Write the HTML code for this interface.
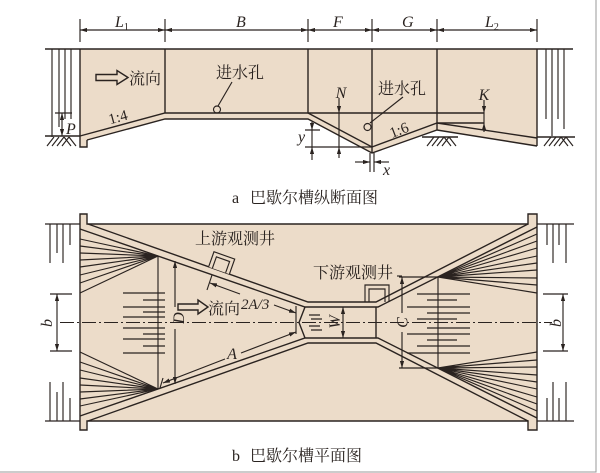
<!DOCTYPE html>
<html><head><meta charset="utf-8"><style>
html,body{margin:0;padding:0;background:#fff;}
svg{display:block;}
.l{fill:none;stroke:#2a2320;stroke-width:1.4;}
.t{stroke-width:1.15;}
.cj{font-family:"Liberation Serif","Noto Serif CJK SC",serif;font-size:16px;fill:#2a2320;}
.it{font-family:"Liberation Serif",serif;font-style:italic;font-size:16px;fill:#2a2320;}
</style></head><body>
<svg width="600" height="473" viewBox="0 0 600 473" xmlns="http://www.w3.org/2000/svg">
<defs>
<marker id="a" viewBox="0 0 10 6" refX="10" refY="3" markerWidth="7" markerHeight="4.4" markerUnits="userSpaceOnUse" orient="auto-start-reverse"><path d="M0,0L10,3L0,6z" fill="#2a2320"/></marker>
</defs>
<rect width="600" height="473" fill="#fff"/>
<path d="M596,0V472H0" fill="none" stroke="#9a9a9a" stroke-width="1"/>

<!-- ============ SECTION VIEW ============ -->
<path fill="#ecdcc9" d="M80,49H537V146L437,130L372,153L308,119H165L87,140V147H80Z"/>
<g class="l">
<path d="M45,49H573"/>
<path d="M80,49V147H87V140"/>
<path d="M80,136L165,113H484"/>
<path d="M87,140L165,119H308L372,153L437,130L537,146"/>
<path d="M308,113L372,147L437,123L537,138"/>
<path d="M437,123H484"/>
<path d="M537,49V146"/>
<path d="M165,49V113M308,49V113M372,49V153M437,49V130"/>
<path d="M45,136H80M422,137H458M537,137H575"/>
</g>
<g class="l t">
<path d="M52,49V137M59,49V127M65,49V119M71,49V119"/>
<path d="M546,49V119M552,49V136M558,49V119M564,49V129"/>
<path d="M47,146L54,137M52,146L59,137M57,146L64,137M62,146L69,137M64,137L71,146M69,137L76,146"/>
<path d="M427,146L434,137M432,146L439,137M437,146L444,137M442,146L449,137M444,137L451,146M449,137L456,146"/>
<path d="M544,146L551,137M549,146L556,137M554,146L561,137M559,146L566,137M561,137L568,146M566,137L573,146"/>
</g>
<g class="l t">
<path d="M80,19V42M165,19V42M308,19V42M372,19V42M437,19V42M537,19V42"/>
<path d="M80,30H165" marker-start="url(#a)" marker-end="url(#a)"/>
<path d="M165,30H308" marker-start="url(#a)" marker-end="url(#a)"/>
<path d="M308,30H372" marker-start="url(#a)" marker-end="url(#a)"/>
<path d="M372,30H437" marker-start="url(#a)" marker-end="url(#a)"/>
<path d="M437,30H537" marker-start="url(#a)" marker-end="url(#a)"/>
</g>
<text class="it" x="115" y="27">L<tspan font-size="10" font-style="normal" dy="3">1</tspan></text>
<text class="it" x="236" y="27">B</text>
<text class="it" x="333" y="27">F</text>
<text class="it" x="402" y="27">G</text>
<text class="it" x="485" y="27">L<tspan font-size="10" font-style="normal" dy="3">2</tspan></text>

<path class="l" d="M96,74.5H117V70.5L128,77.5L117,84.5V80.5H96Z"/>
<text class="cj" x="129" y="84">流向</text>
<text class="cj" x="216" y="78">进水孔</text>
<path class="l t" d="M232,82L218,106"/>
<circle cx="217" cy="109.5" r="3.5" fill="#fff" class="l t"/>
<text class="cj" x="378" y="94">进水孔</text>
<path class="l t" d="M403,97L370,123"/>
<circle cx="367.5" cy="127" r="3.5" fill="none" class="l t"/>
<text class="it" style="font-style:normal;font-size:15px" x="118" y="122" text-anchor="middle" transform="rotate(-15 118 117)">1:4</text>
<text class="it" style="font-style:normal;font-size:15px" x="399" y="135" text-anchor="middle" transform="rotate(-21 399 130)">1:6</text>
<g class="l t">
<path d="M55,113H72"/>
<path d="M62,113V136" marker-start="url(#a)" marker-end="url(#a)"/>
</g>
<text class="it" x="66" y="134">P</text>
<g class="l t">
<path d="M339,98V113" marker-end="url(#a)"/>
<path d="M339,113V147"/>
<path d="M339,158V147" marker-end="url(#a)"/>
<path d="M305,147H372M305,130H320"/>
<path d="M312,122V130" marker-end="url(#a)"/>
<path d="M312,130V147"/>
<path d="M312,160V147" marker-end="url(#a)"/>
<path d="M370,153V172M374,153V172"/>
<path d="M355,162H370" marker-end="url(#a)"/>
<path d="M389,162H374" marker-end="url(#a)"/>
<path d="M484,100V113" marker-end="url(#a)"/>
<path d="M484,113V123"/>
<path d="M484,132V123" marker-end="url(#a)"/>
</g>
<text class="it" x="341" y="98" text-anchor="middle">N</text>
<text class="it" x="298" y="142">y</text>
<text class="it" x="383" y="175">x</text>
<text class="it" x="484" y="100" text-anchor="middle">K</text>

<text class="it" style="font-style:normal" x="232" y="203">a</text>
<text class="cj" x="250" y="203">巴歇尔槽纵断面图</text>

<!-- ============ PLAN VIEW ============ -->
<path fill="#ecdcc9" d="M80,214H87V224H528V214H537V430H528V421H87V430H80Z"/>
<g class="l">
<path d="M80,214V430H87V421H528V430H537V214H528V224H87V214Z"/>
<path d="M88,224L308,302H376L528,224"/>
<path d="M80,229L305,307H378L537,227"/>
<path d="M88,421L308,343H376L528,421"/>
<path d="M80,416L305,338H378L537,418"/>
<path d="M305,307L299,322.5L305,338"/>
<path d="M376,307V338"/>
</g>
<g class="l t">
<path d="M80,239L158,256M80,246L158,256M80,253L158,256M80,260L158,256M80,267L158,256M80,275L158,256M80,283L158,256M80,293L158,256"/>
<path d="M80,406L158,389M80,399L158,389M80,392L158,389M80,385L158,389M80,378L158,389M80,370L158,389M80,362L158,389M80,352L158,389"/>
<path d="M537,234L438,277M537,241L438,277M537,248L438,277M537,256L438,277M537,263L438,277M537,270L438,277M537,278L438,277M537,285L438,277M537,293L438,277"/>
<path d="M537,411L438,368M537,404L438,368M537,397L438,368M537,389L438,368M537,382L438,368M537,375L438,368M537,367L438,368M537,360L438,368M537,352L438,368"/>
<path d="M158,256V389M438,277V368"/>
<path d="M123,293H165M123,307H165M123,317H165M123,328H165M123,339H165M123,353H165M143,300H165M143,312H165M143,334H165M143,346H165"/>
<path d="M417,294H470M427,300H457M407,307H470M427,313H470M417,319H457M427,328H470M407,334H470M427,340H457M417,346H470M407,353H470"/>
<path d="M309,315H320M311,319H322M309,326H320M311,330H322"/>
</g>
<path d="M60,322.5H552" fill="none" stroke="#2a2320" stroke-width="1" stroke-dasharray="14 3 2 3"/>
<g class="l t">
<path d="M45,224H80M537,224H574M45,421H80M537,421H574"/>
<path d="M50,224V263M57,224V253M63,224V263M70,224V245"/>
<path d="M547,224V245M553,224V263M559,224V245M566,224V263"/>
<path d="M50,382V421M57,392V421M63,382V421M70,398V421"/>
<path d="M547,398V421M553,382V421M559,398V421M566,382V421"/>
</g>
<g class="l t">
<path d="M50,294H72M50,351H72"/>
<path d="M57,294V351" marker-start="url(#a)" marker-end="url(#a)"/>
<path d="M543,294H568M543,351H568"/>
<path d="M563,294V351" marker-start="url(#a)" marker-end="url(#a)"/>
<path d="M175,307V261" marker-end="url(#a)"/>
<path d="M175,329V384" marker-end="url(#a)"/>
<path d="M399,277H438M399,368H438"/>
<path d="M402,313V277" marker-end="url(#a)"/>
<path d="M402,332V368" marker-end="url(#a)"/>
<path d="M343,307V338" marker-start="url(#a)" marker-end="url(#a)"/>
<path d="M212,275L207,290"/>
<path d="M240,294L210,283" marker-end="url(#a)"/>
<path d="M274,305L296,313" marker-end="url(#a)"/>
<path d="M296,306V334"/>
<path d="M163,378L160,388"/>
<path d="M225,359L163,383" marker-end="url(#a)"/>
<path d="M241,353L296,332" marker-end="url(#a)"/>
</g>
<g class="l t" transform="translate(219,270.5) rotate(19.5)">
<path d="M-11,0V-16H11V0" fill="#ecdcc9"/>
<path d="M-7,0V-12H7V0"/>
</g>
<path class="l t" d="M365,302V285H389V302M369,302V289H385V302"/>
<text class="cj" x="195" y="244">上游观测井</text>
<text class="cj" x="313" y="278">下游观测井</text>
<path class="l t" d="M397,276H402"/>
<path class="l" d="M178,304H198V300L208,307L198,314V310H178Z"/>
<text class="cj" x="208" y="314">流向</text>
<text class="it" style="font-size:15px" x="241" y="309">2A/3</text>
<text class="it" x="232" y="359" text-anchor="middle">A</text>
<text class="it" x="179" y="323" text-anchor="middle" transform="rotate(-90 179 318)">D</text>
<text class="it" x="47" y="328" text-anchor="middle" transform="rotate(-90 47 323)">b</text>
<text class="it" x="556" y="328" text-anchor="middle" transform="rotate(-90 556 323)">b</text>
<text class="it" x="335" y="327" text-anchor="middle" transform="rotate(-90 335 322)">W</text>
<text class="it" x="402" y="328" text-anchor="middle" transform="rotate(-90 402 322.5)">C</text>

<text class="it" style="font-style:normal" x="232" y="461">b</text>
<text class="cj" x="250" y="461">巴歇尔槽平面图</text>
</svg>
</body></html>
